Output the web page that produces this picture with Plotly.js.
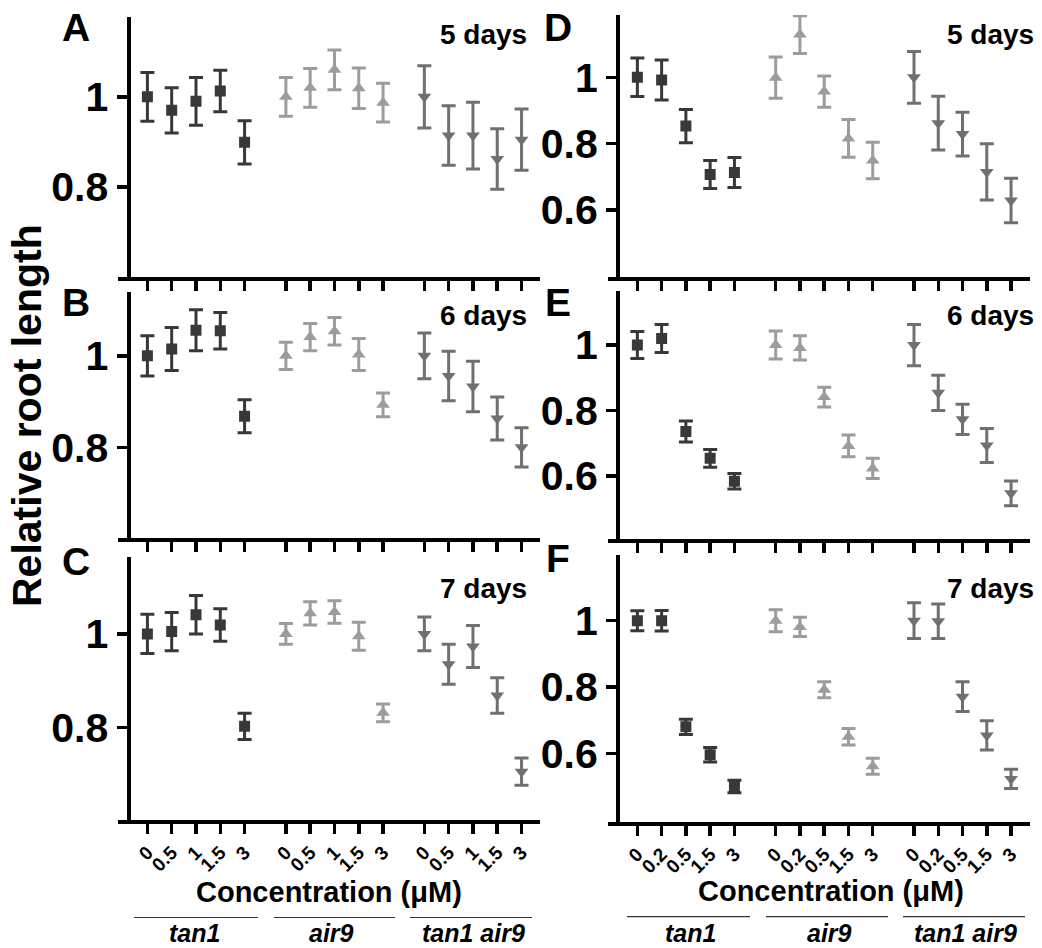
<!DOCTYPE html>
<html>
<head>
<meta charset="utf-8">
<script src="https://cdn.plot.ly/plotly-3.0.1.min.js"></script>
<style>html,body{margin:0;padding:0;background:#fff;}#chart{width:1042px;height:948px;}</style>
</head>
<body>
<div id="chart"></div>
<script>
// ---------- data ----------
const genotypes = ['tan1', 'air9', 'tan1 air9'];
const concLeft = ['0', '0.5', '1', '1.5', '3'];
const concRight = ['0', '0.2', '0.5', '1.5', '3'];
const dayLabels = ['5 days', '6 days', '7 days'];
const panelLetters = ['A', 'B', 'C', 'D', 'E', 'F'];

// Panel A (5 days, left)
const A_tan1 = [1.000, 0.970, 0.990, 1.013, 0.899];
const A_tan1_err = [0.054, 0.050, 0.053, 0.046, 0.048];
const A_air9 = [1.000, 1.020, 1.060, 1.019, 0.987];
const A_air9_err = [0.043, 0.043, 0.044, 0.045, 0.043];
const A_double = [1.000, 0.914, 0.914, 0.862, 0.905];
const A_double_err = [0.069, 0.066, 0.074, 0.067, 0.068];
// Panel B (6 days, left)
const B_tan1 = [1.000, 1.015, 1.056, 1.055, 0.868];
const B_tan1_err = [0.044, 0.047, 0.045, 0.040, 0.036];
const B_air9 = [1.000, 1.041, 1.054, 1.003, 0.893];
const B_air9_err = [0.030, 0.030, 0.030, 0.035, 0.026];
const B_double = [1.000, 0.956, 0.933, 0.863, 0.800];
const B_double_err = [0.050, 0.054, 0.055, 0.047, 0.043];
// Panel C (7 days, left)
const C_tan1 = [1.000, 1.005, 1.041, 1.019, 0.802];
const C_tan1_err = [0.042, 0.041, 0.041, 0.035, 0.028];
const C_air9 = [1.000, 1.044, 1.047, 0.995, 0.831];
const C_air9_err = [0.022, 0.025, 0.024, 0.030, 0.019];
const C_double = [1.000, 0.935, 0.973, 0.868, 0.705];
const C_double_err = [0.036, 0.043, 0.045, 0.038, 0.029];
// Panel D (5 days, right)
const D_tan1 = [1.000, 0.992, 0.853, 0.707, 0.713];
const D_tan1_err = [0.058, 0.060, 0.050, 0.042, 0.045];
const D_air9 = [0.999, 1.129, 0.957, 0.816, 0.749];
const D_air9_err = [0.062, 0.057, 0.047, 0.057, 0.055];
const D_double = [1.000, 0.862, 0.829, 0.715, 0.629];
const D_double_err = [0.078, 0.081, 0.066, 0.085, 0.067];
// Panel E (6 days, right)
const E_tan1 = [1.000, 1.020, 0.736, 0.654, 0.584];
const E_tan1_err = [0.041, 0.043, 0.032, 0.027, 0.024];
const E_air9 = [1.000, 0.991, 0.841, 0.692, 0.623];
const E_air9_err = [0.043, 0.037, 0.030, 0.033, 0.031];
const E_double = [1.000, 0.854, 0.773, 0.693, 0.547];
const E_double_err = [0.063, 0.054, 0.046, 0.052, 0.038];
// Panel F (7 days, right)
const F_tan1 = [1.000, 1.000, 0.680, 0.596, 0.500];
const F_tan1_err = [0.030, 0.031, 0.023, 0.022, 0.019];
const F_air9 = [1.000, 0.981, 0.792, 0.650, 0.561];
const F_air9_err = [0.033, 0.029, 0.024, 0.025, 0.024];
const F_double = [1.000, 0.998, 0.771, 0.654, 0.523];
const F_double_err = [0.054, 0.052, 0.045, 0.044, 0.029];

const yTicksLeft = [0.8, 1];
const yTicksRight = [0.6, 0.8, 1];

// ---------- styling / layout ----------
const W = 1042, H = 948;
const GROUP_STEP = 5.7;
const colors = ['#383838', '#9c9c9c', '#707070'];
const symbols = ['square', 'triangle-up', 'triangle-down'];
const msize = [11, 12, 12];
const FONT = 'Liberation Sans, Arial, Helvetica, sans-serif';

const panels = [
  {letter: 'A', day: 0, col: 0, conc: concLeft, series: [[A_tan1, A_tan1_err], [A_air9, A_air9_err], [A_double, A_double_err]], top: 16.7, bot: 277, range: [0.600, 1.178], ticks: yTicksLeft, letterY: 27, dayY: 34},
  {letter: 'B', day: 1, col: 0, conc: concLeft, series: [[B_tan1, B_tan1_err], [B_air9, B_air9_err], [B_double, B_double_err]], top: 292.3, bot: 538.3, range: [0.601, 1.139], ticks: yTicksLeft, letterY: 303, dayY: 315},
  {letter: 'C', day: 2, col: 0, conc: concLeft, series: [[C_tan1, C_tan1_err], [C_air9, C_air9_err], [C_double, C_double_err]], top: 557.3, bot: 820, range: [0.6015, 1.164], ticks: yTicksLeft, letterY: 561, dayY: 588},
  {letter: 'D', day: 0, col: 1, conc: concRight, series: [[D_tan1, D_tan1_err], [D_air9, D_air9_err], [D_double, D_double_err]], top: 15, bot: 276.7, range: [0.399, 1.188], ticks: yTicksRight, letterY: 27, dayY: 34},
  {letter: 'E', day: 1, col: 1, conc: concRight, series: [[E_tan1, E_tan1_err], [E_air9, E_air9_err], [E_double, E_double_err]], top: 291, bot: 539.3, range: [0.4067, 1.165], ticks: yTicksRight, letterY: 303, dayY: 315},
  {letter: 'F', day: 2, col: 1, conc: concRight, series: [[F_tan1, F_tan1_err], [F_air9, F_air9_err], [F_double, F_double_err]], top: 555, bot: 821.7, range: [0.394, 1.198], ticks: yTicksRight, letterY: 558, dayY: 588}
];

const colGeom = [
  {x0: 118, x1: 540, yaxisX: 128.5, letterX: 76, dayRight: 529, concX: 329, concY: 892, lineY: 917.5,
   underlines: [[134, 258], [274, 395], [410, 532]], groupX: [194, 331, 473]},
  {x0: 608, x1: 1029.5, yaxisX: 618, letterX: 558, dayRight: 1036, concX: 831, concY: 891, lineY: 916.7,
   underlines: [[627, 750], [766, 888], [903, 1025]], groupX: [690, 829, 965]}
];

const traces = [];
const layout = {
  width: W, height: H,
  margin: {l: 0, r: 0, t: 0, b: 0},
  paper_bgcolor: '#ffffff', plot_bgcolor: 'rgba(0,0,0,0)',
  showlegend: false,
  annotations: [], shapes: []
};

panels.forEach((p, k) => {
  const idx = k + 1;
  const xa = 'x' + (idx === 1 ? '' : idx);
  const ya = 'y' + (idx === 1 ? '' : idx);
  const g = colGeom[p.col];
  const tickvals = [], ticktext = [];
  genotypes.forEach((gn, gi) => {
    const xs = p.conc.map((c, i) => gi * GROUP_STEP + i);
    xs.forEach((x, i) => { tickvals.push(x); ticktext.push(p.conc[i]); });
    traces.push({
      type: 'scatter', mode: 'markers', xaxis: xa, yaxis: ya,
      x: xs, y: p.series[gi][0], name: gn,
      marker: {symbol: symbols[gi], size: msize[gi], color: colors[gi], line: {width: 0}},
      error_y: {type: 'data', array: p.series[gi][1], visible: true, color: colors[gi], thickness: 3, width: 7},
      hoverinfo: 'x+y'
    });
  });
  layout['xaxis' + (idx === 1 ? '' : idx)] = {
    domain: [g.x0 / W, g.x1 / W], anchor: ya,
    range: [-1.21, 16.16], showgrid: false, zeroline: false,
    showline: true, linecolor: '#000', linewidth: 4,
    ticks: 'outside', ticklen: 10, tickwidth: 3.5, tickcolor: '#000',
    tickvals: tickvals, ticktext: ticktext, tickangle: -45,
    showticklabels: p.day === 2,
    tickfont: {family: FONT, size: 19, color: '#000', weight: 'bold'},
    fixedrange: true
  };
  layout['yaxis' + (idx === 1 ? '' : idx)] = {
    domain: [1 - p.bot / H, 1 - p.top / H], anchor: 'free', position: g.yaxisX / W,
    range: p.range, showgrid: false, zeroline: false,
    showline: true, linecolor: '#000', linewidth: 4,
    ticks: 'outside', ticklen: 10, tickwidth: 3.5, tickcolor: '#000',
    tickvals: p.ticks, ticktext: p.ticks.map(v => String(v)),
    tickfont: {family: FONT, size: 41, color: '#000', weight: 'bold'},
    fixedrange: true
  };
  layout.annotations.push({
    xref: 'paper', yref: 'paper', x: g.letterX / W, y: 1 - p.letterY / H,
    xanchor: 'center', yanchor: 'middle', showarrow: false,
    text: p.letter, font: {family: FONT, size: 39, color: '#000', weight: 'bold'}
  });
  layout.annotations.push({
    xref: 'paper', yref: 'paper', x: g.dayRight / W, y: 1 - p.dayY / H,
    xanchor: 'right', yanchor: 'middle', showarrow: false,
    text: dayLabels[p.day], font: {family: FONT, size: 28, color: '#000', weight: 'bold'}
  });
});

colGeom.forEach(g => {
  layout.annotations.push({
    xref: 'paper', yref: 'paper', x: g.concX / W, y: 1 - g.concY / H,
    xanchor: 'center', yanchor: 'middle', showarrow: false,
    text: 'Concentration (μM)', font: {family: FONT, size: 29, color: '#000', weight: 'bold'}
  });
  g.underlines.forEach((u, i) => {
    layout.shapes.push({type: 'line', xref: 'paper', yref: 'paper',
      x0: u[0] / W, x1: u[1] / W, y0: 1 - g.lineY / H, y1: 1 - g.lineY / H,
      line: {color: '#333', width: 1.2}});
    layout.annotations.push({
      xref: 'paper', yref: 'paper', x: g.groupX[i] / W, y: 1 - 933 / H,
      xanchor: 'center', yanchor: 'middle', showarrow: false,
      text: '<i>' + genotypes[i] + '</i>',
      font: {family: FONT, size: 25, color: '#000', weight: 'bold'}
    });
  });
});

layout.annotations.push({
  xref: 'paper', yref: 'paper', x: 27 / W, y: 1 - 416 / H,
  xanchor: 'center', yanchor: 'middle', showarrow: false, textangle: -90,
  text: 'Relative root length', font: {family: FONT, size: 41, color: '#000', weight: 'bold'}
});

Plotly.newPlot('chart', traces, layout, {displayModeBar: false, staticPlot: true});
</script>
</body>
</html>
